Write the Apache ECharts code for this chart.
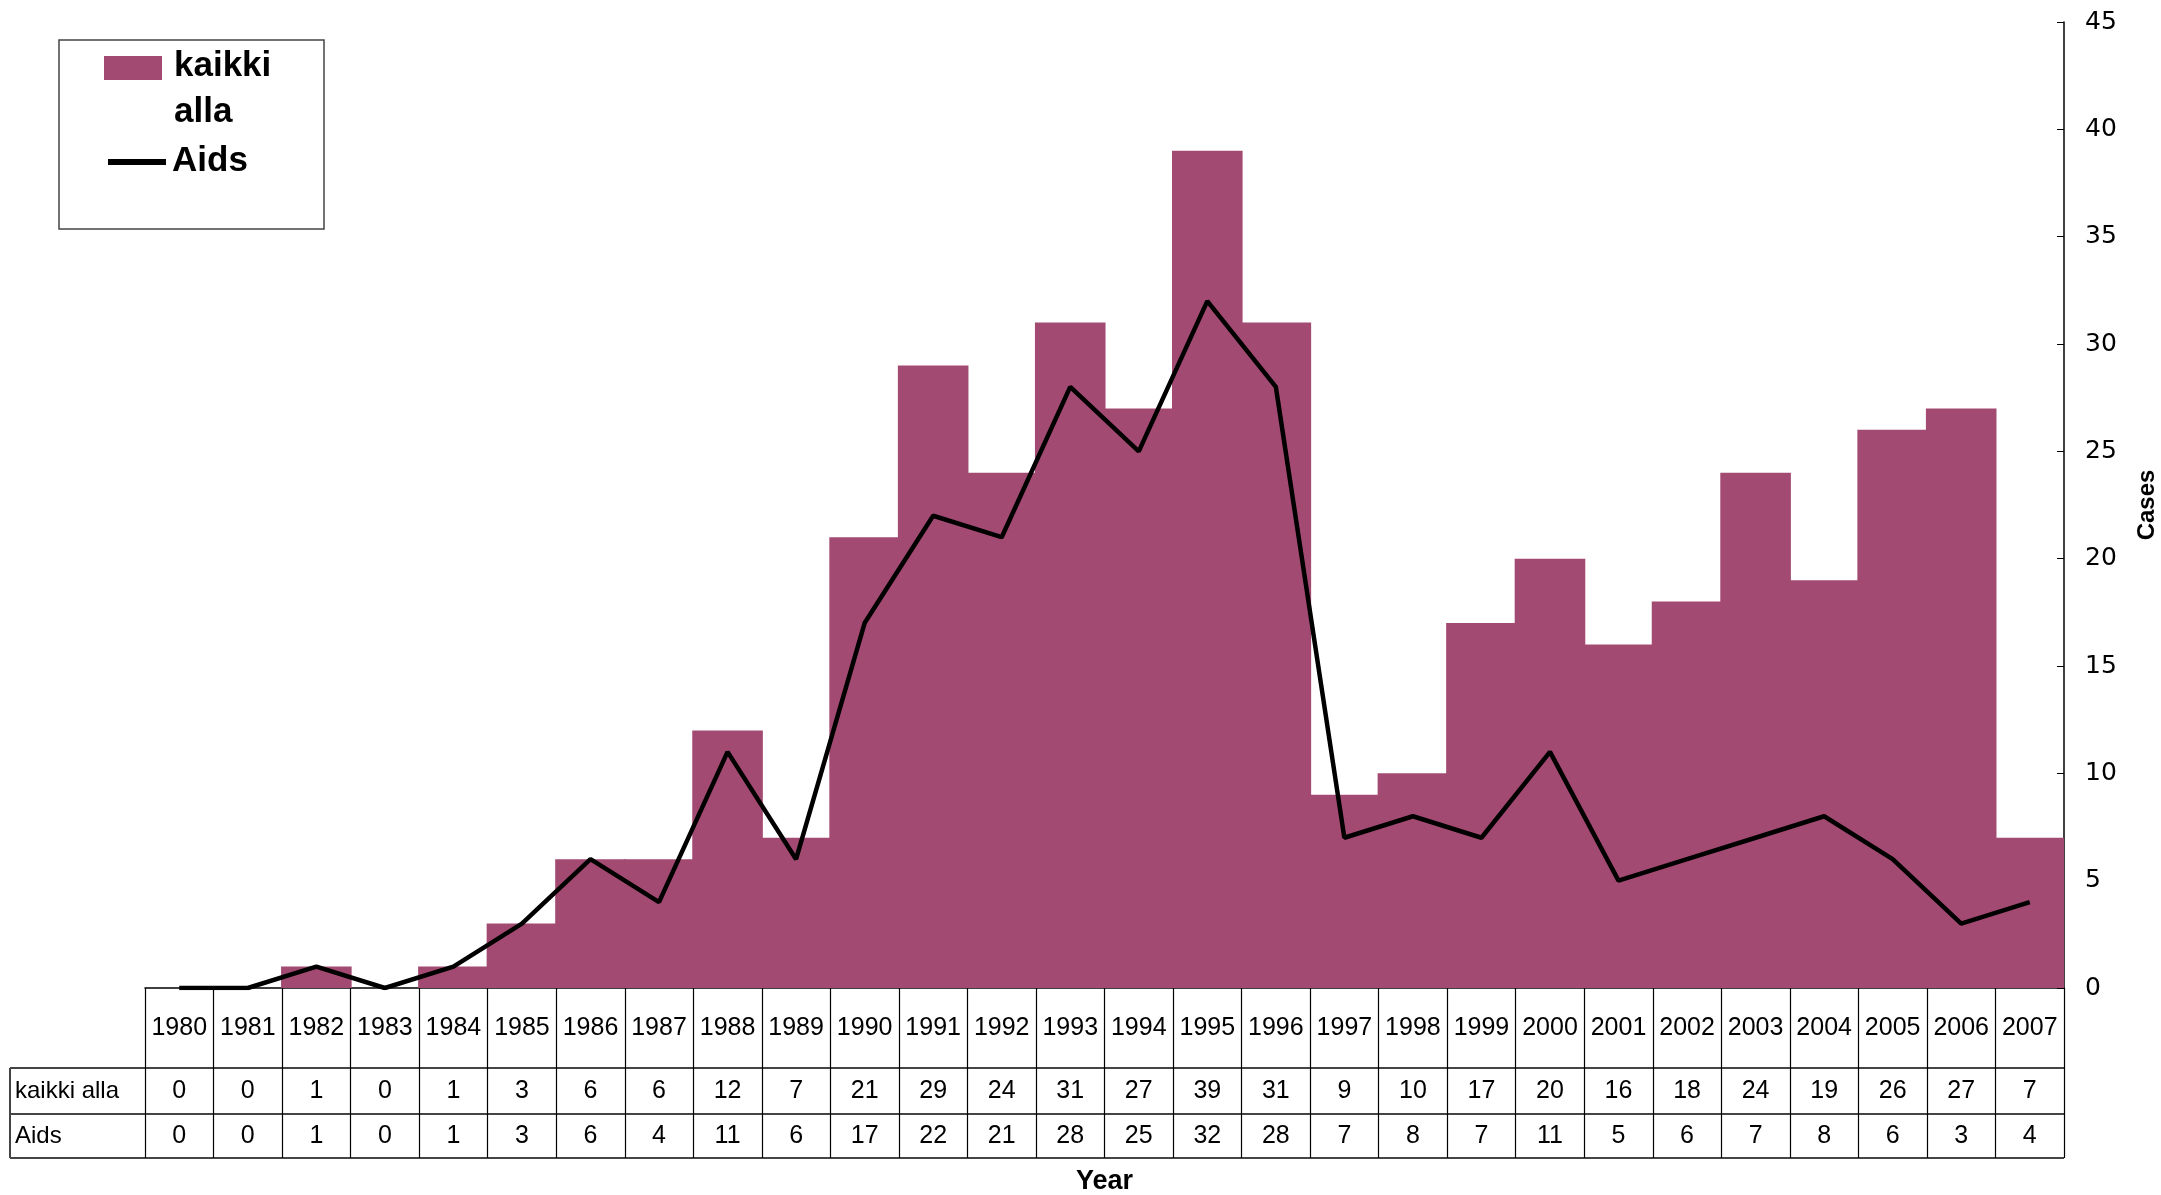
<!DOCTYPE html>
<html>
<head>
<meta charset="utf-8">
<script src="https://cdn.jsdelivr.net/npm/echarts@6/dist/echarts.min.js"></script>
<style>
  html, body { margin: 0; padding: 0; background: #fff; }
  #chart { width: 2161px; height: 1195px; }
</style>
</head>
<body>
<div id="chart"></div>
<script>
// data
const years = ['1980', '1981', '1982', '1983', '1984', '1985', '1986', '1987', '1988', '1989',
  '1990', '1991', '1992', '1993', '1994', '1995', '1996', '1997', '1998', '1999',
  '2000', '2001', '2002', '2003', '2004', '2005', '2006', '2007']
const kaikkiAlla = [0, 0, 1, 0, 1, 3, 6, 6, 12, 7, 21, 29, 24, 31, 27, 39, 31, 9, 10, 17, 20, 16, 18, 24, 19, 26, 27, 7]
const aids = [0, 0, 1, 0, 1, 3, 6, 4, 11, 6, 17, 22, 21, 28, 25, 32, 28, 7, 8, 7, 11, 5, 6, 7, 8, 6, 3, 4]
const seriesNames = ['kaikki alla', 'Aids']

const barColor = '#A34A73'
const font = 'Liberation Sans, Arial, sans-serif'

const chart = echarts.init(document.getElementById('chart'))

const option = {
  backgroundColor: '#fff',
  animation: false,
  grid: { left: 145, right: 97, top: 22, bottom: 207, outerBoundsMode: 'none', containLabel: false },
  xAxis: {
    type: 'category',
    data: years,
    boundaryGap: true,
    name: 'Year',
    nameLocation: 'middle',
    nameGap: 180,
    nameTextStyle: { fontFamily: font, fontWeight: 'bold', fontSize: 27, color: '#000' },
    axisLine: { lineStyle: { color: '#000', width: 1.5 } },
    axisTick: { show: true, interval: 0, length: 170, lineStyle: { color: '#000', width: 1.2 } },
    axisLabel: {
      interval: 0,
      margin: 0,
      formatter: (val, idx) => '{y|' + val + '}\n{k|' + kaikkiAlla[idx] + '}\n{a|' + aids[idx] + '}',
      rich: {
        y: { fontFamily: font, fontSize: 25, color: '#000', lineHeight: 80, height: 80 },
        k: { fontFamily: font, fontSize: 25, color: '#000', lineHeight: 46, height: 46 },
        a: { fontFamily: font, fontSize: 25, color: '#000', lineHeight: 44, height: 44 }
      }
    },
    splitLine: { show: false }
  },
  yAxis: {
    type: 'value',
    position: 'right',
    min: 0,
    max: 45,
    interval: 5,
    name: 'Cases',
    nameLocation: 'middle',
    nameRotate: 90,
    nameGap: 71,
    nameTextStyle: { fontFamily: font, fontWeight: 'bold', fontSize: 24, color: '#000' },
    axisLine: { show: true, lineStyle: { color: '#000', width: 1.5 } },
    axisTick: { show: true, inside: true, length: 7, lineStyle: { color: '#000' } },
    axisLabel: { margin: 21, fontFamily: 'DejaVu Sans, sans-serif', fontSize: 25, color: '#000' },
    splitLine: { show: false }
  },
  series: [
    {
      name: seriesNames[0],
      type: 'bar',
      data: kaikkiAlla,
      barWidth: '103%',
      itemStyle: { color: barColor }
    },
    {
      name: seriesNames[1],
      type: 'line',
      data: aids,
      symbol: 'none',
      z: 5,
      lineStyle: { color: '#000', width: 4.5 }
    }
  ],
  graphic: [
    // table rows
    { type: 'line', shape: { x1: 10, y1: 1068, x2: 2064, y2: 1068 }, style: { stroke: '#444', lineWidth: 2 } },
    { type: 'line', shape: { x1: 10, y1: 1114, x2: 2064, y2: 1114 }, style: { stroke: '#444', lineWidth: 2 } },
    { type: 'line', shape: { x1: 10, y1: 1158, x2: 2064, y2: 1158 }, style: { stroke: '#444', lineWidth: 2 } },
    { type: 'line', shape: { x1: 10, y1: 1068, x2: 10, y2: 1158 }, style: { stroke: '#444', lineWidth: 2 } },
    { type: 'text', x: 15, y: 1091, style: { text: seriesNames[0], font: '24px ' + font, fill: '#000', verticalAlign: 'middle' } },
    { type: 'text', x: 15, y: 1136, style: { text: seriesNames[1], font: '24px ' + font, fill: '#000', verticalAlign: 'middle' } },
    // legend box
    { type: 'rect', shape: { x: 59, y: 40, width: 265, height: 189 }, style: { fill: '#fff', stroke: '#444', lineWidth: 1.5 } },
    { type: 'rect', shape: { x: 104, y: 56, width: 58, height: 24 }, style: { fill: barColor } },
    { type: 'text', x: 174, y: 66, style: { text: seriesNames[0].split(' ')[0], font: 'bold 35px ' + font, fill: '#000', verticalAlign: 'middle' } },
    { type: 'text', x: 174, y: 112, style: { text: seriesNames[0].split(' ')[1], font: 'bold 35px ' + font, fill: '#000', verticalAlign: 'middle' } },
    { type: 'line', shape: { x1: 108, y1: 162, x2: 166, y2: 162 }, style: { stroke: '#000', lineWidth: 6 } },
    { type: 'text', x: 172, y: 161, style: { text: seriesNames[1], font: 'bold 35px ' + font, fill: '#000', verticalAlign: 'middle' } }
  ]
}

chart.setOption(option)

window.addEventListener('resize', () => {
  chart.resize()
})
</script>
</body>
</html>
